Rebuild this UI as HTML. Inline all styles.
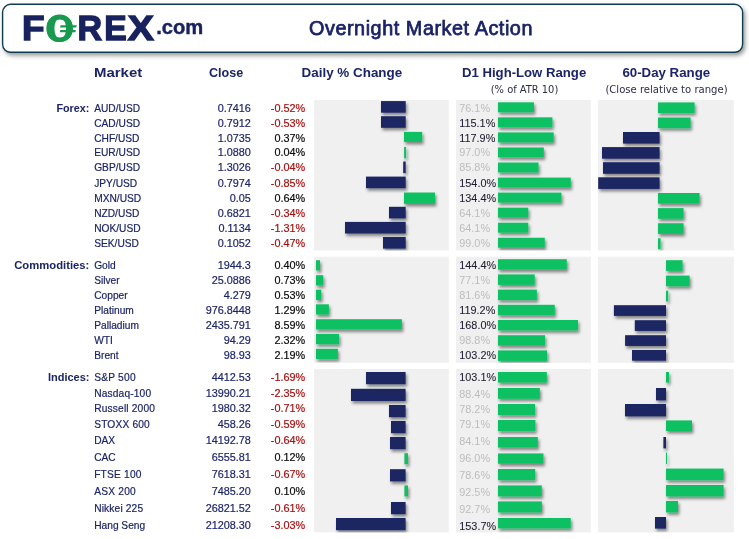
<!DOCTYPE html>
<html lang="en"><head><meta charset="utf-8"><title>Overnight Market Action</title>
<style>
html,body{margin:0;padding:0;background:#fff;}
body{width:749px;height:539px;overflow:hidden;position:relative;font-family:"Liberation Sans",sans-serif;}
svg{position:absolute;left:0;top:0;display:block}
text{font-family:"Liberation Sans",sans-serif;font-size:10.3px;fill:#1b2466;}
.nm{font-size:10.2px;stroke:#1b2466;stroke-width:0.18px}
.num{font-size:10.85px}
.nv{fill:#1c2468;stroke:#1c2468;stroke-width:0.18px}
.neg{fill:#a80f0f;stroke:#a80f0f;stroke-width:0.18px}
.pos{fill:#0a0a0a;stroke:#0a0a0a;stroke-width:0.18px}
.hi{fill:#1f1b30;stroke:#1f1b30;stroke-width:0.08px}
.lo{fill:#bdbdbd}
.sec{font-weight:bold;font-size:11px;letter-spacing:0;fill:#1b2466}
.hd{font-weight:bold;font-size:13px;fill:#1b2466}
.sub{font-family:"DejaVu Sans Condensed","DejaVu Sans",sans-serif;font-size:11px;fill:#2c2c48}
.title{font-weight:normal;font-size:19.8px;letter-spacing:0.56px;stroke:#1b2466;stroke-width:0.75px;fill:#1b2466}
.lg{font-family:"Liberation Sans",sans-serif;font-weight:bold;fill:#18235f}
</style></head>
<body>
<svg width="749" height="539" viewBox="0 0 749 539">
<defs>
<filter id="sh" x="0" y="0" width="749" height="539" filterUnits="userSpaceOnUse">
<feDropShadow dx="1.4" dy="2.5" stdDeviation="1.7" flood-color="#000" flood-opacity="0.45"/>
</filter>
<filter id="sh2" x="0" y="0" width="749" height="70" filterUnits="userSpaceOnUse">
<feDropShadow dx="2" dy="2.6" stdDeviation="2" flood-color="#000" flood-opacity="0.4"/>
</filter>
</defs>
<rect x="2.6" y="4.3" width="740" height="48" rx="8" ry="8" fill="#fff" stroke="#0f3d50" stroke-width="1.4" filter="url(#sh2)"/>
<g id="logo"><text transform="translate(24.55,40.40) scale(1.0492,1)" x="-2.36" y="0" class="lg" style="font-size:35.25px;fill:#18225e;stroke:#18225e;stroke-width:1.4px;stroke-linejoin:miter">F</text><text transform="translate(46.70,41.5) scale(0.9654,1)" x="-1.58" y="0" class="lg" style="font-size:38.6px;fill:#17994f">O</text><text transform="translate(79.70,40.40) scale(0.9666,1)" x="-2.36" y="0" class="lg" style="font-size:35.25px;fill:#18225e;stroke:#18225e;stroke-width:1.4px;stroke-linejoin:miter">R</text><text transform="translate(106.50,40.40) scale(0.9558,1)" x="-2.36" y="0" class="lg" style="font-size:35.25px;fill:#18225e;stroke:#18225e;stroke-width:1.4px;stroke-linejoin:miter">E</text><text transform="translate(128.20,40.40) scale(1.1104,1)" x="-0.32" y="0" class="lg" style="font-size:35.25px;fill:#18225e;stroke:#18225e;stroke-width:1.4px;stroke-linejoin:miter">X</text><text x="156.2" y="34.0" class="lg" style="font-size:20.2px;fill:#18225e;stroke:#18225e;stroke-width:0.4px">.com</text><path fill="#17994f" fill-rule="evenodd" d="M59.65 14.4 C67.6 14.4 72.9 20.2 72.9 28.2 C72.9 36.2 67.6 42 59.65 42 C51.7 42 46.4 36.2 46.4 28.2 C46.4 20.2 51.7 14.4 59.65 14.4 Z M60.25 18.4 C56.6 18.4 54.5 22.4 54.5 28.4 C54.5 34.4 56.6 38.4 60.25 38.4 C63.9 38.4 66 34.4 66 28.4 C66 22.4 63.9 18.4 60.25 18.4 Z"/><path fill="#17994f" d="M60.6 25.2 L76.8 25.2 L76.2 27.6 L60 27.6 Z M60.3 30 L75.9 30 L75.3 32.3 L59.7 32.3 Z"/></g>
<text x="421" y="34.7" class="title" text-anchor="middle">Overnight Market Action</text>
<rect x="314.00" y="100.00" width="134.80" height="150.40" fill="#f0f0f0" />
<rect x="456.00" y="100.00" width="134.80" height="150.40" fill="#f0f0f0" />
<rect x="598.00" y="100.00" width="135.80" height="150.40" fill="#f0f0f0" />
<rect x="314.00" y="256.70" width="134.80" height="106.10" fill="#f0f0f0" />
<rect x="456.00" y="256.70" width="134.80" height="106.10" fill="#f0f0f0" />
<rect x="598.00" y="256.70" width="135.80" height="106.10" fill="#f0f0f0" />
<rect x="314.00" y="369.00" width="134.80" height="163.40" fill="#f0f0f0" />
<rect x="456.00" y="369.00" width="134.80" height="163.40" fill="#f0f0f0" />
<rect x="598.00" y="369.00" width="135.80" height="163.40" fill="#f0f0f0" />
<clipPath id="cp0"><rect x="314" y="100" width="134.80" height="150.40"/></clipPath>
<g clip-path="url(#cp0)"><g filter="url(#sh)">
<rect x="381.00" y="101.10" width="24.70" height="11.60" fill="#1a2664" />
<rect x="381.00" y="116.20" width="24.70" height="11.60" fill="#1a2664" />
<rect x="404.00" y="131.90" width="18.20" height="10.00" fill="#10c162" />
<rect x="404.10" y="146.90" width="2.00" height="11.40" fill="#10c162" />
<rect x="403.20" y="161.50" width="2.50" height="11.60" fill="#1a2664" />
<rect x="366.00" y="176.60" width="39.70" height="11.60" fill="#1a2664" />
<rect x="404.00" y="192.50" width="31.00" height="11.40" fill="#10c162" />
<rect x="389.00" y="206.80" width="16.70" height="11.60" fill="#1a2664" />
<rect x="345.00" y="221.90" width="60.70" height="11.60" fill="#1a2664" />
<rect x="383.00" y="237.00" width="22.70" height="11.60" fill="#1a2664" />
</g></g>
<clipPath id="cp1"><rect x="456" y="100" width="134.80" height="150.40"/></clipPath>
<g clip-path="url(#cp1)"><g filter="url(#sh)">
<rect x="498.00" y="102.30" width="35.96" height="10.00" fill="#10c162" />
<rect x="498.00" y="117.35" width="54.38" height="10.00" fill="#10c162" />
<rect x="498.00" y="132.40" width="55.71" height="10.00" fill="#10c162" />
<rect x="498.00" y="147.45" width="45.83" height="10.00" fill="#10c162" />
<rect x="498.00" y="162.50" width="40.54" height="10.00" fill="#10c162" />
<rect x="498.00" y="177.55" width="72.76" height="10.00" fill="#10c162" />
<rect x="498.00" y="192.60" width="63.50" height="10.00" fill="#10c162" />
<rect x="498.00" y="207.65" width="30.29" height="10.00" fill="#10c162" />
<rect x="498.00" y="222.70" width="30.29" height="10.00" fill="#10c162" />
<rect x="498.00" y="237.75" width="46.78" height="10.00" fill="#10c162" />
</g></g>
<clipPath id="cp2"><rect x="598" y="100" width="135.80" height="150.40"/></clipPath>
<g clip-path="url(#cp2)"><g filter="url(#sh)">
<rect x="658.00" y="102.40" width="36.60" height="10.70" fill="#10c162" />
<rect x="658.00" y="117.50" width="32.60" height="10.70" fill="#10c162" />
<rect x="623.00" y="132.00" width="36.60" height="11.60" fill="#1a2664" />
<rect x="602.00" y="147.10" width="57.60" height="11.60" fill="#1a2664" />
<rect x="603.00" y="162.20" width="56.60" height="11.60" fill="#1a2664" />
<rect x="598.20" y="177.30" width="61.40" height="11.60" fill="#1a2664" />
<rect x="658.00" y="193.00" width="41.60" height="10.70" fill="#10c162" />
<rect x="658.00" y="208.10" width="25.60" height="10.70" fill="#10c162" />
<rect x="658.00" y="223.20" width="25.60" height="10.70" fill="#10c162" />
<rect x="658.00" y="238.30" width="2.60" height="10.70" fill="#10c162" />
</g></g>
<clipPath id="cp3"><rect x="314" y="256.7" width="134.80" height="106.10"/></clipPath>
<g clip-path="url(#cp3)"><g filter="url(#sh)">
<rect x="316.00" y="260.20" width="4.00" height="10.30" fill="#10c162" />
<rect x="316.00" y="275.20" width="7.30" height="10.30" fill="#10c162" />
<rect x="316.00" y="289.70" width="5.30" height="10.30" fill="#10c162" />
<rect x="316.00" y="304.30" width="12.90" height="10.30" fill="#10c162" />
<rect x="316.00" y="319.20" width="85.90" height="10.30" fill="#10c162" />
<rect x="316.00" y="333.90" width="23.20" height="10.30" fill="#10c162" />
<rect x="316.00" y="348.80" width="21.90" height="10.30" fill="#10c162" />
</g></g>
<clipPath id="cp4"><rect x="456" y="256.7" width="134.80" height="106.10"/></clipPath>
<g clip-path="url(#cp4)"><g filter="url(#sh)">
<rect x="498.00" y="259.20" width="68.81" height="10.50" fill="#10c162" />
<rect x="498.00" y="274.40" width="36.74" height="10.50" fill="#10c162" />
<rect x="498.00" y="289.60" width="38.88" height="10.50" fill="#10c162" />
<rect x="498.00" y="304.80" width="56.80" height="10.50" fill="#10c162" />
<rect x="498.00" y="320.00" width="80.05" height="10.50" fill="#10c162" />
<rect x="498.00" y="335.20" width="47.08" height="10.50" fill="#10c162" />
<rect x="498.00" y="350.40" width="49.17" height="10.50" fill="#10c162" />
</g></g>
<clipPath id="cp5"><rect x="598" y="256.7" width="135.80" height="106.10"/></clipPath>
<g clip-path="url(#cp5)"><g filter="url(#sh)">
<rect x="666.00" y="260.20" width="16.60" height="10.70" fill="#10c162" />
<rect x="666.00" y="275.60" width="23.70" height="10.70" fill="#10c162" />
<rect x="666.00" y="290.70" width="2.20" height="10.70" fill="#10c162" />
<rect x="613.90" y="305.20" width="52.10" height="10.70" fill="#1a2664" />
<rect x="634.80" y="320.20" width="31.20" height="10.70" fill="#1a2664" />
<rect x="625.10" y="335.20" width="40.90" height="10.70" fill="#1a2664" />
<rect x="632.00" y="350.00" width="34.00" height="10.70" fill="#1a2664" />
</g></g>
<clipPath id="cp6"><rect x="314" y="369" width="134.80" height="163.40"/></clipPath>
<g clip-path="url(#cp6)"><g filter="url(#sh)">
<rect x="366.00" y="372.00" width="39.60" height="12.20" fill="#1a2664" />
<rect x="351.00" y="388.80" width="54.60" height="12.20" fill="#1a2664" />
<rect x="389.00" y="405.00" width="16.60" height="12.20" fill="#1a2664" />
<rect x="391.00" y="421.00" width="14.60" height="12.20" fill="#1a2664" />
<rect x="390.00" y="437.00" width="15.60" height="12.20" fill="#1a2664" />
<rect x="404.40" y="453.20" width="3.60" height="11.00" fill="#10c162" />
<rect x="390.00" y="469.20" width="15.60" height="12.20" fill="#1a2664" />
<rect x="404.40" y="485.40" width="3.60" height="11.00" fill="#10c162" />
<rect x="391.00" y="502.00" width="14.60" height="12.20" fill="#1a2664" />
<rect x="336.00" y="518.00" width="69.60" height="12.20" fill="#1a2664" />
</g></g>
<clipPath id="cp7"><rect x="456" y="369" width="134.80" height="163.40"/></clipPath>
<g clip-path="url(#cp7)"><g filter="url(#sh)">
<rect x="498.00" y="372.00" width="48.82" height="10.60" fill="#10c162" />
<rect x="498.00" y="388.00" width="41.86" height="10.80" fill="#10c162" />
<rect x="498.00" y="404.00" width="37.03" height="11.20" fill="#10c162" />
<rect x="498.00" y="420.00" width="37.45" height="11.20" fill="#10c162" />
<rect x="498.00" y="437.00" width="39.82" height="10.60" fill="#10c162" />
<rect x="498.00" y="453.40" width="45.46" height="10.40" fill="#10c162" />
<rect x="498.00" y="469.00" width="37.22" height="11.20" fill="#10c162" />
<rect x="498.00" y="485.40" width="43.80" height="11.00" fill="#10c162" />
<rect x="498.00" y="501.40" width="43.89" height="11.00" fill="#10c162" />
<rect x="498.00" y="518.00" width="72.78" height="10.40" fill="#10c162" />
</g></g>
<clipPath id="cp8"><rect x="598" y="369" width="135.80" height="163.40"/></clipPath>
<g clip-path="url(#cp8)"><g filter="url(#sh)">
<rect x="666.00" y="372.00" width="3.00" height="10.60" fill="#10c162" />
<rect x="656.00" y="388.00" width="10.00" height="12.40" fill="#1a2664" />
<rect x="625.00" y="404.00" width="41.00" height="12.40" fill="#1a2664" />
<rect x="666.00" y="420.40" width="26.00" height="10.60" fill="#10c162" />
<rect x="663.40" y="437.00" width="2.60" height="11.40" fill="#1a2664" />
<rect x="666.00" y="452.60" width="1.00" height="11.40" fill="#10c162" />
<rect x="666.00" y="468.60" width="57.60" height="11.60" fill="#10c162" />
<rect x="666.00" y="485.00" width="57.60" height="11.40" fill="#10c162" />
<rect x="666.00" y="501.00" width="12.00" height="11.40" fill="#10c162" />
<rect x="655.00" y="517.00" width="11.00" height="11.60" fill="#1a2664" />
</g></g>
<text x="94.20" y="111.90" class="nm" >AUD/USD</text>
<text x="250.90" y="111.90" class="num nv" text-anchor="end" >0.7416</text>
<text x="305.20" y="111.90" class="num neg" text-anchor="end" >-0.52%</text>
<text x="459.30" y="111.90" class="num lo" >76.1%</text>
<text x="94.20" y="126.80" class="nm" >CAD/USD</text>
<text x="250.90" y="126.80" class="num nv" text-anchor="end" >0.7912</text>
<text x="305.20" y="126.80" class="num neg" text-anchor="end" >-0.53%</text>
<text x="459.30" y="126.80" class="num hi" >115.1%</text>
<text x="94.20" y="141.50" class="nm" >CHF/USD</text>
<text x="250.90" y="141.50" class="num nv" text-anchor="end" >1.0735</text>
<text x="305.20" y="141.50" class="num pos" text-anchor="end" >0.37%</text>
<text x="459.30" y="141.50" class="num hi" >117.9%</text>
<text x="94.20" y="156.20" class="nm" >EUR/USD</text>
<text x="250.90" y="156.20" class="num nv" text-anchor="end" >1.0880</text>
<text x="305.20" y="156.20" class="num pos" text-anchor="end" >0.04%</text>
<text x="459.30" y="156.20" class="num lo" >97.0%</text>
<text x="94.20" y="171.40" class="nm" >GBP/USD</text>
<text x="250.90" y="171.40" class="num nv" text-anchor="end" >1.3026</text>
<text x="305.20" y="171.40" class="num neg" text-anchor="end" >-0.04%</text>
<text x="459.30" y="171.40" class="num lo" >85.8%</text>
<text x="94.20" y="186.90" class="nm" >JPY/USD</text>
<text x="250.90" y="186.90" class="num nv" text-anchor="end" >0.7974</text>
<text x="305.20" y="186.90" class="num neg" text-anchor="end" >-0.85%</text>
<text x="459.30" y="186.90" class="num hi" >154.0%</text>
<text x="94.20" y="201.80" class="nm" >MXN/USD</text>
<text x="250.90" y="201.80" class="num nv" text-anchor="end" >0.05</text>
<text x="305.20" y="201.80" class="num pos" text-anchor="end" >0.64%</text>
<text x="459.30" y="201.80" class="num hi" >134.4%</text>
<text x="94.20" y="216.70" class="nm" >NZD/USD</text>
<text x="250.90" y="216.70" class="num nv" text-anchor="end" >0.6821</text>
<text x="305.20" y="216.70" class="num neg" text-anchor="end" >-0.34%</text>
<text x="459.30" y="216.70" class="num lo" >64.1%</text>
<text x="94.20" y="231.50" class="nm" >NOK/USD</text>
<text x="250.90" y="231.50" class="num nv" text-anchor="end" >0.1134</text>
<text x="305.20" y="231.50" class="num neg" text-anchor="end" >-1.31%</text>
<text x="459.30" y="231.50" class="num lo" >64.1%</text>
<text x="94.20" y="246.60" class="nm" >SEK/USD</text>
<text x="250.90" y="246.60" class="num nv" text-anchor="end" >0.1052</text>
<text x="305.20" y="246.60" class="num neg" text-anchor="end" >-0.47%</text>
<text x="459.30" y="246.60" class="num lo" >99.0%</text>
<text x="94.20" y="268.70" class="nm" >Gold</text>
<text x="250.90" y="268.70" class="num nv" text-anchor="end" >1944.3</text>
<text x="305.20" y="268.70" class="num pos" text-anchor="end" >0.40%</text>
<text x="459.30" y="268.70" class="num hi" >144.4%</text>
<text x="94.20" y="283.70" class="nm" >Silver</text>
<text x="250.90" y="283.70" class="num nv" text-anchor="end" >25.0886</text>
<text x="305.20" y="283.70" class="num pos" text-anchor="end" >0.73%</text>
<text x="459.30" y="283.70" class="num lo" >77.1%</text>
<text x="94.20" y="298.70" class="nm" >Copper</text>
<text x="250.90" y="298.70" class="num nv" text-anchor="end" >4.279</text>
<text x="305.20" y="298.70" class="num pos" text-anchor="end" >0.53%</text>
<text x="459.30" y="298.70" class="num lo" >81.6%</text>
<text x="94.20" y="313.70" class="nm" >Platinum</text>
<text x="250.90" y="313.70" class="num nv" text-anchor="end" >976.8448</text>
<text x="305.20" y="313.70" class="num pos" text-anchor="end" >1.29%</text>
<text x="459.30" y="313.70" class="num hi" >119.2%</text>
<text x="94.20" y="328.70" class="nm" >Palladium</text>
<text x="250.90" y="328.70" class="num nv" text-anchor="end" >2435.791</text>
<text x="305.20" y="328.70" class="num pos" text-anchor="end" >8.59%</text>
<text x="459.30" y="328.70" class="num hi" >168.0%</text>
<text x="94.20" y="343.70" class="nm" >WTI</text>
<text x="250.90" y="343.70" class="num nv" text-anchor="end" >94.29</text>
<text x="305.20" y="343.70" class="num pos" text-anchor="end" >2.32%</text>
<text x="459.30" y="343.70" class="num lo" >98.8%</text>
<text x="94.20" y="358.70" class="nm" >Brent</text>
<text x="250.90" y="358.70" class="num nv" text-anchor="end" >98.93</text>
<text x="305.20" y="358.70" class="num pos" text-anchor="end" >2.19%</text>
<text x="459.30" y="358.70" class="num hi" >103.2%</text>
<text x="94.20" y="381.10" class="nm" textLength="41.37">S&amp;P 500</text>
<text x="250.90" y="381.10" class="num nv" text-anchor="end" >4412.53</text>
<text x="305.20" y="381.10" class="num neg" text-anchor="end" >-1.69%</text>
<text x="459.30" y="381.00" class="num hi" >103.1%</text>
<text x="94.20" y="396.90" class="nm" textLength="56.87">Nasdaq-100</text>
<text x="250.90" y="396.90" class="num nv" text-anchor="end" >13990.21</text>
<text x="305.20" y="396.90" class="num neg" text-anchor="end" >-2.35%</text>
<text x="459.30" y="397.60" class="num lo" >88.4%</text>
<text x="94.20" y="412.30" class="nm" textLength="60.69">Russell 2000</text>
<text x="250.90" y="412.30" class="num nv" text-anchor="end" >1980.32</text>
<text x="305.20" y="412.30" class="num neg" text-anchor="end" >-0.71%</text>
<text x="459.30" y="412.60" class="num lo" >78.2%</text>
<text x="94.20" y="427.50" class="nm" textLength="55.54">STOXX 600</text>
<text x="250.90" y="427.50" class="num nv" text-anchor="end" >458.26</text>
<text x="305.20" y="427.50" class="num neg" text-anchor="end" >-0.59%</text>
<text x="459.30" y="427.60" class="num lo" >79.1%</text>
<text x="94.20" y="444.20" class="nm" >DAX</text>
<text x="250.90" y="444.20" class="num nv" text-anchor="end" >14192.78</text>
<text x="305.20" y="444.20" class="num neg" text-anchor="end" >-0.64%</text>
<text x="459.30" y="444.60" class="num lo" >84.1%</text>
<text x="94.20" y="460.60" class="nm" >CAC</text>
<text x="250.90" y="460.60" class="num nv" text-anchor="end" >6555.81</text>
<text x="305.20" y="460.60" class="num pos" text-anchor="end" >0.12%</text>
<text x="459.30" y="462.00" class="num lo" >96.0%</text>
<text x="94.20" y="477.60" class="nm" textLength="47.21">FTSE 100</text>
<text x="250.90" y="477.60" class="num nv" text-anchor="end" >7618.31</text>
<text x="305.20" y="477.60" class="num neg" text-anchor="end" >-0.67%</text>
<text x="459.30" y="478.60" class="num lo" >78.6%</text>
<text x="94.20" y="494.50" class="nm" textLength="41.55">ASX 200</text>
<text x="250.90" y="494.50" class="num nv" text-anchor="end" >7485.20</text>
<text x="305.20" y="494.50" class="num pos" text-anchor="end" >0.10%</text>
<text x="459.30" y="495.80" class="num lo" >92.5%</text>
<text x="94.20" y="511.50" class="nm" textLength="48.91">Nikkei 225</text>
<text x="250.90" y="511.50" class="num nv" text-anchor="end" >26821.52</text>
<text x="305.20" y="511.50" class="num neg" text-anchor="end" >-0.61%</text>
<text x="459.30" y="512.60" class="num lo" >92.7%</text>
<text x="94.20" y="528.50" class="nm" >Hang Seng</text>
<text x="250.90" y="528.50" class="num nv" text-anchor="end" >21208.30</text>
<text x="305.20" y="528.50" class="num neg" text-anchor="end" >-3.03%</text>
<text x="459.30" y="529.70" class="num hi" >153.7%</text>
<text x="56.40" y="111.90" class="sec" textLength="33" lengthAdjust="spacingAndGlyphs">Forex:</text>
<text x="14.20" y="268.70" class="sec" textLength="75.2" lengthAdjust="spacingAndGlyphs">Commodities:</text>
<text x="89.50" y="381.10" class="sec" text-anchor="end" >Indices:</text>
<text x="94.00" y="76.70" class="hd" textLength="48.2" lengthAdjust="spacingAndGlyphs">Market</text>
<text x="209.00" y="76.70" class="hd" textLength="34.2" lengthAdjust="spacingAndGlyphs">Close</text>
<text x="301.60" y="76.70" class="hd" textLength="100.6" lengthAdjust="spacingAndGlyphs">Daily % Change</text>
<text x="462.00" y="76.90" class="hd" textLength="124.2" lengthAdjust="spacingAndGlyphs">D1 High-Low Range</text>
<text x="622.40" y="76.90" class="hd" textLength="87.8" lengthAdjust="spacingAndGlyphs">60-Day Range</text>
<text x="524.50" y="93.00" class="sub" text-anchor="middle" >(% of ATR 10)</text>
<text x="605.40" y="93.00" class="sub" textLength="122.2" lengthAdjust="spacingAndGlyphs">(Close relative to range)</text>
</svg>
</body></html>
